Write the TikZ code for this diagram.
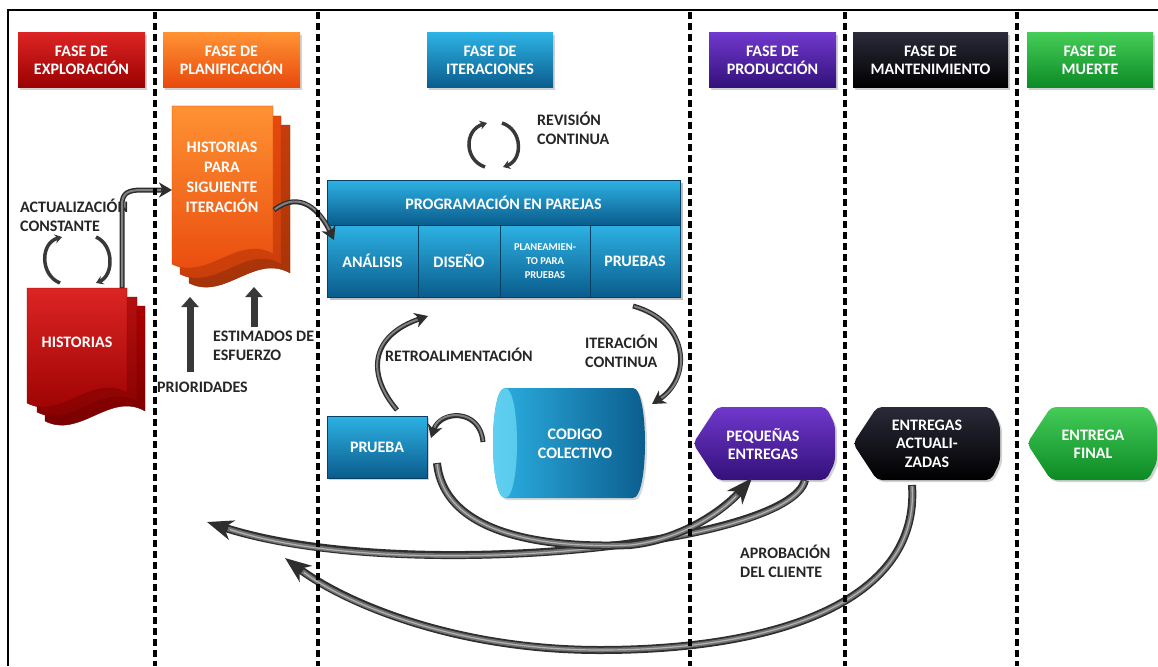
\documentclass[tikz,border=0pt]{standalone}
\usepackage{fontspec}
\setmainfont{Carlito}
\usetikzlibrary{arrows.meta,shadows}
\definecolor{redT}{HTML}{DC2424}
\definecolor{redB}{HTML}{9A0000}
\definecolor{orT}{HTML}{FF9233}
\definecolor{orB}{HTML}{E8480C}
\definecolor{blT}{HTML}{2DB2E4}
\definecolor{blB}{HTML}{0A5C8C}
\definecolor{cap}{HTML}{62D0F0}
\definecolor{puT}{HTML}{7038CC}
\definecolor{puB}{HTML}{33107A}
\definecolor{bkT}{HTML}{2A2A3A}
\definecolor{bkB}{HTML}{000000}
\definecolor{grT}{HTML}{44CC58}
\definecolor{grB}{HTML}{0C8A24}
\newcommand\docpage[6]{\shade[top color=#5,bottom color=#6,draw=#6!85!black,line width=0.4pt]
  (#1,#2) -- ({#1+#3},#2) -- ({#1+#3},{#2+#4-10})
  .. controls ({#1+0.65*#3},{#2+#4-30}) and ({#1+0.35*#3},{#2+#4+18}) .. (#1,{#2+#4}) -- cycle;}
\newcommand\delivshape[4]{\shade[top color=#3,bottom color=#4,rounded corners=5pt,
  drop shadow={shadow xshift=2pt,shadow yshift=-2pt,opacity=.35}]
  (#1,443.5) -- ({#1+24},407) -- ({#2-9},407) -- (#2,425) -- (#2,462) -- ({#2-9},480) -- ({#1+24},480) -- cycle;}
\begin{document}
\begin{tikzpicture}[x=1pt,y=-1pt,
  hdr/.style={minimum height=55pt,inner sep=0pt,text=white,align=center,
    font=\bfseries\fontsize{16}{17.5}\selectfont,
    drop shadow={shadow xshift=2pt,shadow yshift=-2pt,opacity=.35}},
  lbl/.style={font=\bfseries\fontsize{16}{19}\selectfont,align=left,inner sep=0pt,anchor=west,text=black!85},
  wtxt/.style={font=\bfseries\fontsize{16}{18.5}\selectfont,align=center,inner sep=0pt,text=white},
  bluebox/.style={top color=blT,bottom color=blB,draw=blB!70!black,line width=0.6pt,
    inner sep=0pt,text=white,align=center,font=\bfseries\fontsize{16}{18.5}\selectfont},
  tube/.style={line width=8pt,draw=black!82,-{Stealth[length=26pt,width=20pt,inset=8pt]},
    postaction={draw=black!55,line width=4.5pt,-,shorten >=22pt,shorten <=1pt},
    postaction={draw=black!30,line width=1.2pt,-,shorten >=24pt,shorten <=1pt}},
  conn/.style={line width=5pt,draw=black!82,-{Stealth[length=13pt,width=15pt,inset=4pt]},
    postaction={draw=black!50,line width=2pt,-,shorten >=11pt,shorten <=1pt}},
  uparrow/.style={line width=7pt,draw=black!78,-{Triangle[length=10pt,width=17pt]}},
  curly/.style={line width=3.5pt,draw=black!78,-{Stealth[length=7pt,width=9pt]}},
  divider/.style={line width=3.2pt,dash pattern=on 7pt off 4pt}]
\useasboundingbox (0,0) rectangle (1158,666);
\fill[white] (0,0) rectangle (1158,666);
\draw[line width=2pt] (8,666) -- (8,10) -- (1158,10);

% phase headers
\node[hdr,minimum width=127pt,top color=redT,bottom color=redB] (h1) at (81.5,60.5) {FASE DE\\EXPLORACIÓN};
\node[hdr,minimum width=137pt,top color=orT,bottom color=orB] (h2) at (231.5,60.5) {FASE DE\\PLANIFICACIÓN};
\node[hdr,minimum width=126pt,top color=blT,bottom color=blB] (h3) at (490,60.5) {FASE DE\\ITERACIONES};
\node[hdr,minimum width=127pt,top color=puT,bottom color=puB] (h4) at (772.5,60.5) {FASE DE\\PRODUCCIÓN};
\node[hdr,minimum width=155pt,top color=bkT,bottom color=bkB] (h5) at (930.5,60.5) {FASE DE\\MANTENIMIENTO};
\node[hdr,minimum width=126pt,top color=grT,bottom color=grB] (h6) at (1090,60.5) {FASE DE\\MUERTE};

% red story stack
\docpage{45}{306}{100}{115}{redB!80!red}{redB!75!black}
\docpage{37}{297}{100}{115}{redB!60!redT}{redB!85!black}
\docpage{27}{288}{100}{115}{redT}{redB}
\node[wtxt] (hist) at (77,342) {HISTORIAS};
\coordinate (histtop) at (122,288);

% orange story stack
\docpage{189}{125}{101}{158}{orB!85!black}{orB!70!black}
\docpage{180}{116}{101}{158}{orB}{orB!85!black}
\docpage{172}{106}{101}{158}{orT}{orB}
\node[wtxt,font=\bfseries\fontsize{16}{20}\selectfont] (sig) at (222,177) {HISTORIAS\\PARA\\SIGUIENTE\\ITERACIÓN};
\coordinate (sigleft) at (172,190);
\coordinate (sigright) at (274,210);
\coordinate (sigbot) at (190,297);
\coordinate (sigbot2) at (254,287);

% labels
\node[lbl] (actl) at (20,215) {ACTUALIZACIÓN\\CONSTANTE};
\node[lbl] (prio) at (157,387) {PRIORIDADES};
\node[lbl] (esti) at (213,346) {ESTIMADOS DE\\ESFUERZO};
\node[lbl] (revi) at (537,128.5) {REVISIÓN\\CONTINUA};
\node[lbl] (retro) at (385,355) {RETROALIMENTACIÓN};
\node[lbl] (iter) at (585,351) {ITERACIÓN\\CONTINUA};
\node[lbl] (apro) at (740,561) {APROBACIÓN\\DEL CLIENTE};
\coordinate (prifoot) at (190,372);
\coordinate (estfoot) at (254,327);

% pair programming block
\fill[black,opacity=.25] (330,183) rectangle (683,300);
\node[bluebox,minimum width=353pt,minimum height=45pt] (prog) at (503.5,202.5) {PROGRAMACIÓN EN PAREJAS};
\node[bluebox,minimum width=91pt,minimum height=72pt] (anal) at (372.5,261) {ANÁLISIS};
\node[bluebox,minimum width=82pt,minimum height=72pt] (dis) at (459,261) {DISEÑO};
\node[bluebox,minimum width=90pt,minimum height=72pt,font=\bfseries\fontsize{10.5}{14}\selectfont] (plan) at (545,261) {PLANEAMIEN-\\TO PARA\\PRUEBAS};
\node[bluebox,minimum width=90pt,minimum height=72pt] (prue) at (635,261) {PRUEBAS};
\coordinate (anain) at (334,240);
\coordinate (iterS) at (633,306);
\coordinate (retroE) at (428,316);

% prueba box
\node[bluebox,minimum width=100pt,minimum height=62pt,
  drop shadow={shadow xshift=2pt,shadow yshift=-2pt,opacity=.35}] (prb) at (377,447) {PRUEBA};
\coordinate (retroS) at (397,410);
\coordinate (prbout) at (437,463);
\coordinate (prbin) at (431,438);

% collective code cylinder
\shade[left color=blT,right color=blB,drop shadow={shadow xshift=2pt,shadow yshift=-2pt,opacity=.3}]
  (505,388) -- (633,388) .. controls (649,388) and (649,498) .. (633,498) -- (505,498)
  .. controls (489,498) and (489,388) .. (505,388) -- cycle;
\shade[left color=cap,right color=cap!80!blT] (505,388) .. controls (521,388) and (521,498) .. (505,498)
  .. controls (489,498) and (489,388) .. (505,388) -- cycle;
\node[wtxt] (cod) at (575,444) {CODIGO\\COLECTIVO};
\coordinate (codout) at (483,442);
\coordinate (iterE) at (652,404);

% deliveries
\delivshape{693}{835}{puT}{puB}
\delivshape{853}{1000}{bkT}{bkB}
\delivshape{1027}{1157}{grT}{grB}
\node[wtxt] (peq) at (763,444) {PEQUEÑAS\\ENTREGAS};
\node[wtxt] (act) at (927,443.5) {ENTREGAS\\ACTUALI-\\ZADAS};
\node[wtxt] (fin) at (1093,444) {ENTREGA\\FINAL};
\coordinate (peqin) at (752,478);
\coordinate (peqout) at (805,480);
\coordinate (actout) at (912,485);
\coordinate (back1) at (207,522);
\coordinate (back2) at (285,558);

% circular arrows
\coordinate (a1) at (60,283); \coordinate (a2) at (62,237);
\coordinate (a3) at (96,237); \coordinate (a4) at (96,283);
\draw[curly] (a1) .. controls (40,275) and (40,243) .. (a2);
\draw[curly] (a3) .. controls (114,245) and (114,275) .. (a4);
\coordinate (r1) at (485,167); \coordinate (r2) at (487,123);
\coordinate (r3) at (502,123); \coordinate (r4) at (503,167);
\draw[curly] (r1) .. controls (464,160) and (464,130) .. (r2);
\draw[curly] (r3) .. controls (523,130) and (523,160) .. (r4);

% connectors
\draw[conn] (histtop) -- (122,205) .. controls (122,193) and (128,190) .. (142,190) -- (sigleft);
\draw[conn] (sigright) .. controls (300,190) and (320,210) .. (anain);
\draw[uparrow] (prifoot) -- (sigbot);
\draw[uparrow] (estfoot) -- (sigbot2);
\draw[conn] (retroS) .. controls (365,372) and (372,335) .. (retroE);
\draw[conn] (iterS) .. controls (690,322) and (692,378) .. (iterE);
\draw[conn] (codout) .. controls (480,408) and (440,410) .. (prbin);

\draw[tube] (actout) .. controls (920,600) and (780,650) .. (600,650)
  .. controls (450,650) and (340,600) .. (back2);
\draw[tube] (peqout) .. controls (790,545) and (400,585) .. (back1);
\draw[tube] (prbout) .. controls (445,540) and (560,548) .. (630,545)
  .. controls (680,540) and (722,512) .. (peqin);

% phase dividers
\draw[divider] (155,12) -- (155,666);
\draw[divider] (318,12) -- (318,666);
\draw[divider] (690,12) -- (690,666);
\draw[divider] (845,12) -- (845,666);
\draw[divider] (1017,12) -- (1017,666);
\end{tikzpicture}
\end{document}
